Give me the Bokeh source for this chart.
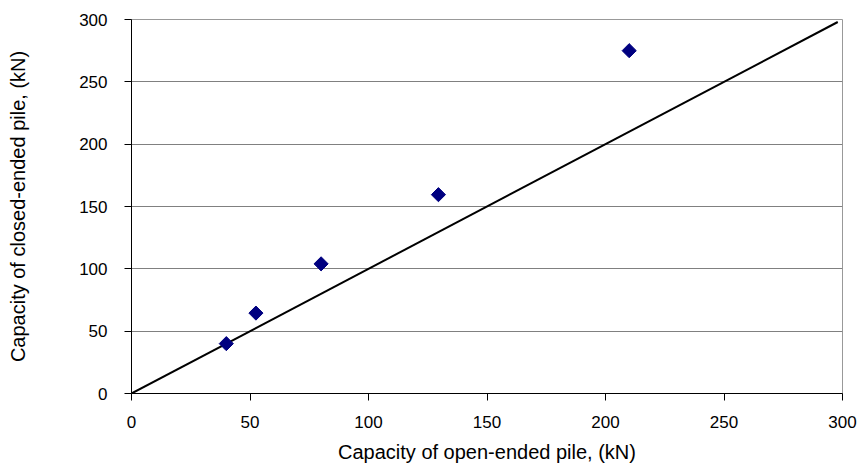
from math import pi
from bokeh.plotting import figure
from bokeh.models import Range1d, FixedTicker, ColumnDataSource
from bokeh.embed import file_html
from bokeh.resources import INLINE

# data
open_ended = [40, 52.5, 80, 129.5, 210]
closed_ended = [40, 64.5, 104, 159.5, 275]
line_x = [0, 298]
line_y = [0, 298]
ticks = [0, 50, 100, 150, 200, 250, 300]

p = figure(width=866, height=472, output_backend="svg", toolbar_location=None,
           x_range=Range1d(0, 300), y_range=Range1d(0, 300),
           min_border_left=131, min_border_right=24, min_border_top=19, min_border_bottom=79)
p.background_fill_color = "white"
p.outline_line_color = "#999999"
p.outline_line_width = 1

font = "Liberation Sans"
for ax in (p.xaxis[0], p.yaxis[0]):
    ax.ticker = FixedTicker(ticks=ticks)
    ax.axis_line_color = "black"
    ax.major_tick_line_color = "black"
    ax.major_tick_out = 7
    ax.major_tick_in = 0
    ax.minor_tick_line_color = None
    ax.major_label_text_font = font
    ax.major_label_text_font_size = "17px"
    ax.major_label_text_color = "black"
    ax.axis_label_text_font = font
    ax.axis_label_text_font_size = "20px"
    ax.axis_label_text_font_style = "normal"
    ax.axis_label_text_color = "black"

p.xaxis.axis_label = "Capacity of open-ended pile, (kN)"
p.yaxis.axis_label = "Capacity of closed-ended pile, (kN)"
p.xaxis.major_label_standoff = 15
p.yaxis.major_label_standoff = 17
p.xaxis.axis_label_standoff = 10
p.yaxis.axis_label_standoff = 47

p.xgrid.grid_line_color = None
p.ygrid.grid_line_color = "#808080"
p.ygrid.grid_line_width = 1
p.ygrid.ticker = FixedTicker(ticks=ticks)

p.line(line_x, line_y, line_color="black", line_width=2)
src = ColumnDataSource(dict(x=open_ended, y=closed_ended))
p.scatter("x", "y", source=src, marker="square", size=10, angle=pi / 4,
          fill_color="#000080", line_color="#000080")

open("out.html", "w").write(file_html(p, INLINE))
